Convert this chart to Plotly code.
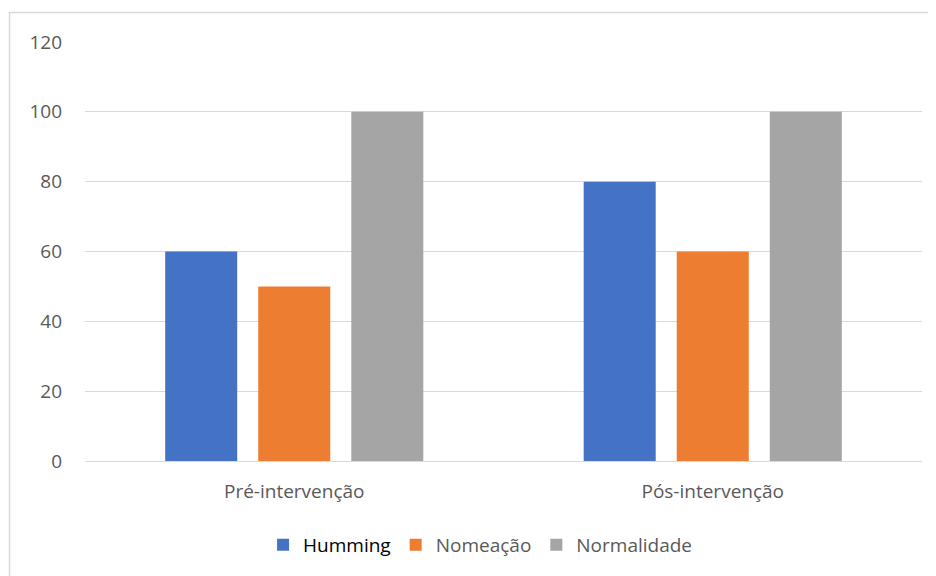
import plotly.graph_objects as go

categories = ["Pré-intervenção", "Pós-intervenção"]
humming = [60, 80]
nomeacao = [50, 60]
normalidade = [100, 100]
series_names = ["Humming", "Nomeação", "Normalidade"]
colors = ["#4472C4", "#ED7D31", "#A5A5A5"]
y_ticks = [0, 20, 40, 60, 80, 100, 120]

FONT = "Open Sans"
FS = 19
fig = go.Figure()
name_labels = [
    '<span style="color:#000000">Humming</span>',
    "Nomeação",
    "Normalidade",
]
for vals, nm, c in zip([humming, nomeacao, normalidade], name_labels, colors):
    fig.add_trace(go.Bar(x=categories, y=vals, name=nm, marker=dict(color=c, line=dict(width=0))))

fig.update_layout(
    width=928, height=568,
    margin=dict(l=77, r=14, t=34, b=115),
    paper_bgcolor="white", plot_bgcolor="white",
    barmode="group", bargap=0.333, bargroupgap=0.226,
    font=dict(family=FONT, size=FS, color="#595959"),
    showlegend=True,
    legend=dict(orientation="h", x=0.472, xanchor="center", y=-0.2, yanchor="middle",
                font=dict(family=FONT, size=FS, color="#595959"), itemwidth=30,
                traceorder="normal"),
    xaxis=dict(showgrid=False, showline=False, ticks="", ticklabelstandoff=17,
               tickfont=dict(family=FONT, size=FS, color="#595959")),
    yaxis=dict(range=[0, 120], tickvals=y_ticks, showgrid=True, gridcolor="#D9D9D9",
               gridwidth=1, zeroline=True, zerolinecolor="#D9D9D9", zerolinewidth=1,
               showline=False, ticks="", ticklabelstandoff=22,
               tickfont=dict(family=FONT, size=FS, color="#595959")),
    shapes=[dict(type="rect", xref="paper", yref="paper", x0=-0.0902, x1=1.2,
                 y0=-0.4, y1=1.0704, line=dict(color="#D9D9D9", width=1.5),
                 fillcolor="rgba(0,0,0,0)", layer="below")],
)
fig.write_html("out.html")
